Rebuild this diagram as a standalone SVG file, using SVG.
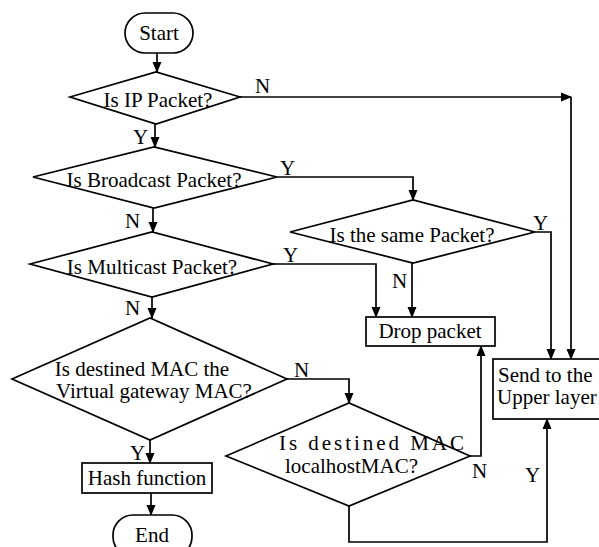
<svg xmlns="http://www.w3.org/2000/svg" width="599" height="547" viewBox="0 0 599 547">
<style>
.s{fill:none;stroke:#000;stroke-width:1.7}
.b{fill:#fff;stroke:#000;stroke-width:1.7}
text{font-family:'Liberation Serif','Times New Roman',Times,serif;font-size:21px;fill:#000}
.c{text-anchor:middle}
</style>
<defs>
<marker id="a" markerWidth="11" markerHeight="11" refX="10" refY="5.5" orient="auto" markerUnits="userSpaceOnUse">
<path d="M0,1 L11,5.5 L0,10 Z" fill="#000"/>
</marker>
</defs>
<rect width="599" height="547" fill="#fff"/>
<g id="connectors" class="s" marker-end="url(#a)">
<path d="M157,53 V72"/>
<path d="M240,97 H571"/>
<path d="M571,97 V359"/>
<path d="M155,124 V147"/>
<path d="M277,177 H413 V200"/>
<path d="M153,208 V232"/>
<path d="M535,232 H551 V359"/>
<path d="M412,263 V317"/>
<path d="M273,264 H376 V317"/>
<path d="M152,297 V318"/>
<path d="M287,379 H349 V403"/>
<path d="M150,440 V463"/>
<path d="M151,493 V515"/>
<path d="M470,456 H481 V346"/>
<path d="M349,506 V542 H547 V419"/>
</g>
<g id="labels">
<text x="255" y="93">N</text>
<text x="133" y="144">Y</text>
<text x="280" y="175">Y</text>
<text x="125" y="228">N</text>
<text x="283" y="262">Y</text>
<text x="125" y="315">N</text>
<text x="533" y="230">Y</text>
<text x="392" y="288">N</text>
<text x="294" y="377">N</text>
<text x="130" y="460">Y</text>
<text x="472" y="478">N</text>
<text x="525" y="482">Y</text>
</g>
<g id="start"><rect class="b" x="125" y="13" width="68" height="40" rx="20"/><text class="c" x="159" y="40">Start</text></g>
<g id="ip"><polygon class="b" points="70,97 156,72 240,97 156,124"/><text class="c" x="158" y="107">Is IP Packet?</text></g>
<g id="broadcast"><polygon class="b" points="33,177 154,147 277,177 154,208"/><text class="c" x="154" y="187">Is Broadcast Packet?</text></g>
<g id="same"><polygon class="b" points="290,232 413,200 535,232 413,263"/><text class="c" x="412" y="242">Is the same Packet?</text></g>
<g id="multicast"><polygon class="b" points="30,264 152,232 273,264 152,297"/><text class="c" x="152" y="274">Is Multicast Packet?</text></g>
<g id="drop"><rect class="b" x="366" y="317" width="129" height="29"/><text class="c" x="430" y="338">Drop packet</text></g>
<g id="gateway"><polygon class="b" points="12,379 150,318 287,379 150,440"/><text class="c" x="142" y="376">Is destined MAC the</text><text class="c" x="154" y="398">Virtual gateway MAC?</text></g>
<g id="local"><polygon class="b" points="226,456 349,403 470,456 349,506"/><text x="279" y="450" textLength="185" lengthAdjust="spacing">Is destined MAC</text><text x="285" y="473">localhostMAC?</text></g>
<g id="send"><rect class="b" x="493" y="359" width="110" height="60"/><text x="498" y="382">Send to the</text><text x="497" y="404">Upper layer</text></g>
<g id="hash"><rect class="b" x="82" y="463" width="130" height="30"/><text class="c" x="147" y="485">Hash function</text></g>
<g id="end"><rect class="b" x="113" y="515" width="79" height="42" rx="20"/><text class="c" x="152" y="542">End</text></g>
</svg>
